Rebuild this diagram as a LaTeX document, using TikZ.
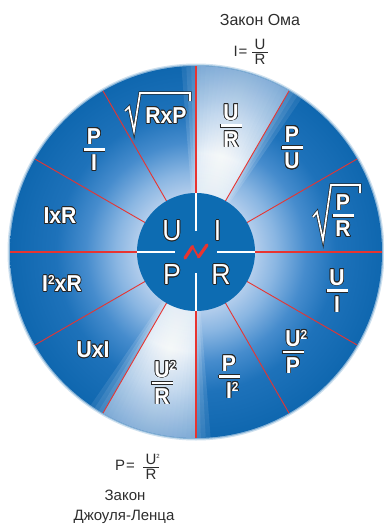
\documentclass[tikz,border=0pt]{standalone}
\usepackage{fontspec}
\setmainfont{Liberation Sans}
\newfontfamily\lblfont{Liberation Sans}[FakeStretch=0.92]
\usepackage{contour}
\contourlength{0.75pt}
\definecolor{rA}{RGB}{178,205,236}
\definecolor{rB}{RGB}{138,182,226}
\definecolor{rC}{RGB}{70,140,205}
\definecolor{rD}{RGB}{30,114,186}
\definecolor{rE}{RGB}{15,103,175}
\definecolor{lA}{RGB}{236,244,252}
\definecolor{lB}{RGB}{255,255,255}
\definecolor{lC}{RGB}{212,228,245}
\definecolor{lD}{RGB}{150,186,224}
\definecolor{innerblue}{RGB}{13,108,178}
\definecolor{redl}{RGB}{232,52,48}
\definecolor{txt}{RGB}{45,45,45}
\pgfdeclareradialshading{ringsh}{\pgfpoint{0bp}{0bp}}{color(0bp)=(rA); color(7.9bp)=(rA); color(10.75bp)=(rB); color(14.8bp)=(rC); color(18.8bp)=(rD); color(25bp)=(rE); color(50bp)=(rE)}
\pgfdeclareradialshading{lightsh}{\pgfpoint{0bp}{0bp}}{color(0bp)=(lA); color(7.9bp)=(lA); color(13.4bp)=(lB); color(18.8bp)=(lC); color(25bp)=(lD); color(50bp)=(lD)}
\newcommand\genfr[5]{\vbox{\offinterlineskip\halign{\hfil##\hfil\cr #4\cr\noalign{\vskip #3}\leaders\hrule height #1\hskip #2 plus 1fill\cr\noalign{\vskip #3}#5\cr}}}
\newcommand\fr[2]{\genfr{2.6pt}{21pt}{4.2pt}{#1}{#2}}
\newcommand\sq{\rlap{\raisebox{7pt}{\fontsize{13}{13}\selectfont 2}}}
\newcommand\sqw{\raisebox{7pt}{\fontsize{13}{13}\selectfont 2}}
\tikzset{
  lbl/.style={font=\lblfont\fontsize{23}{23}\selectfont\bfseries, text=white, inner sep=0pt},
  cl/.style={font=\lblfont\fontsize{29}{29}\selectfont, text=white, inner sep=0pt},
  captxt/.style={font=\fontsize{16}{18}\selectfont, text=txt, inner sep=0pt},
  thickred/.style={draw=redl, line width=2.6pt},
  thinred/.style={draw=redl, line width=0.9pt},
  wline/.style={draw=white, line width=2.6pt},
  radout/.style={draw=black!85, line width=3.1pt, line join=miter},
  radin/.style={draw=white, line width=1.7pt, line join=miter},
}
\begin{document}
\begin{tikzpicture}[x=1pt,y=-1pt]
\useasboundingbox (0,0) rectangle (383,530);
\coordinate (C) at (196,252);
% soft halo
\fill[rE!20] (C) circle (188.5);
\fill[rE!50] (C) circle (187.2);
\shade[shading=ringsh] (C) circle (186);
% light sectors (smooth angular blend)
\foreach \ctr in {-75,105}{
  \begin{scope}
    \clip (C) -- +(\ctr-15:200) arc[start angle=\ctr-15, end angle=\ctr+15, radius=200] -- cycle;
    \shade[shading=lightsh, opacity=0.68] (C) circle (186);
  \end{scope}
  \foreach \hw in {1.5,3,...,19.5}{
    \begin{scope}
      \clip (C) -- +(\ctr-\hw:200) arc[start angle=\ctr-\hw, end angle=\ctr+\hw, radius=200] -- cycle;
      \shade[shading=lightsh, opacity=0.14] (C) circle (186);
    \end{scope}
  }
}
% red divider lines
\foreach \a in {30,60,120,150,210,240,300,330}
  \draw[thinred] (C) ++(\a:58) -- ++(\a:128);
\foreach \a in {0,90,180,270}
  \draw[thickred] (C) ++(\a:58) -- ++(\a:128);
% inner disc
\fill[innerblue] (C) circle (59);
\draw[wline] (196,193) -- (196,231);
\draw[wline] (196,273) -- (196,311);
\draw[wline] (137,252) -- (175,252);
\draw[wline] (217,252) -- (255,252);
% red logo
\draw[redl, line width=3.2pt, line cap=round] (185,258) -- (192.5,246.5);
\draw[redl, line width=1.8pt, line cap=round] (192.5,246.5) -- (198.5,257);
\draw[redl, line width=3.2pt, line cap=round] (198.5,257) -- (207,245);
% centre letters
\node[cl] (cU) at (172,231) {\contour{black!85}{U}};
\node[cl] (cI) at (217.5,231) {\contour{black!85}{I}};
\node[cl] (cP) at (172,275) {\contour{black!85}{P}};
\node[cl] (cR) at (221,275) {\contour{black!85}{R}};
% ring labels
\node[lbl] (f1) at (231,126) {\contour{black!85}{\fr{U}{R}}};
\node[lbl] (f2) at (292,148) {\contour{black!85}{\fr{P}{U}}};
\node[lbl] (f3) at (343,216) {\contour{black!85}{\fr{P}{R}}};
\node[lbl] (f4) at (337,291) {\contour{black!85}{\fr{U}{I}}};
\node[lbl] (f5) at (293,352) {\contour{black!85}{\fr{U\sq}{P}}};
\node[lbl] (f6) at (229,377) {\contour{black!85}{\fr{P}{I\sq}}};
\node[lbl] (f7) at (162,383) {\contour{black!85}{\fr{U\sq}{R}}};
\node[lbl] (f8) at (93,350) {\contour{black!85}{UxI}};
\node[lbl] (f9) at (62,284) {\contour{black!85}{I\sqw xR}};
\node[lbl] (f10) at (60,216) {\contour{black!85}{IxR}};
\node[lbl] (f11) at (94,150) {\contour{black!85}{\fr{P}{I}}};
\node[lbl] (f12) at (166,116) {\contour{black!85}{RxP}};
% radicals
\foreach \s in {radout,radin}{
  \draw[\s] (125,111) -- (129,107) -- (134,131) -- (140,93) -- (190,93) -- (190,101);
  \draw[\s] (313,217) -- (317,212) -- (323,240) -- (331,185) -- (360,185) -- (360,193);
}
% captions
\node[captxt] (t1) at (260,20) {Закон Ома};
\node[captxt, font=\fontsize{15}{15}\selectfont] (t2) at (240.5,51.5) {I\kern1pt=};
\node[captxt, font=\fontsize{15}{15}\selectfont] (t3) at (260,52) {\genfr{1pt}{16pt}{2pt}{U}{R}};
\node[captxt, font=\fontsize{15}{15}\selectfont] (b1) at (125,465) {P\kern1pt=};
\node[captxt, font=\fontsize{15}{15}\selectfont] (b2) at (151,467) {\genfr{1pt}{16pt}{2pt}{U\rlap{\raisebox{6pt}{\fontsize{6}{6}\selectfont 2}}}{R}};
\node[captxt, font=\fontsize{15}{18}\selectfont] (b3) at (125,495) {Закон};
\node[captxt, font=\fontsize{15}{18}\selectfont] (b4) at (124,517) {Джоуля-Ленца};
\end{tikzpicture}
\end{document}
